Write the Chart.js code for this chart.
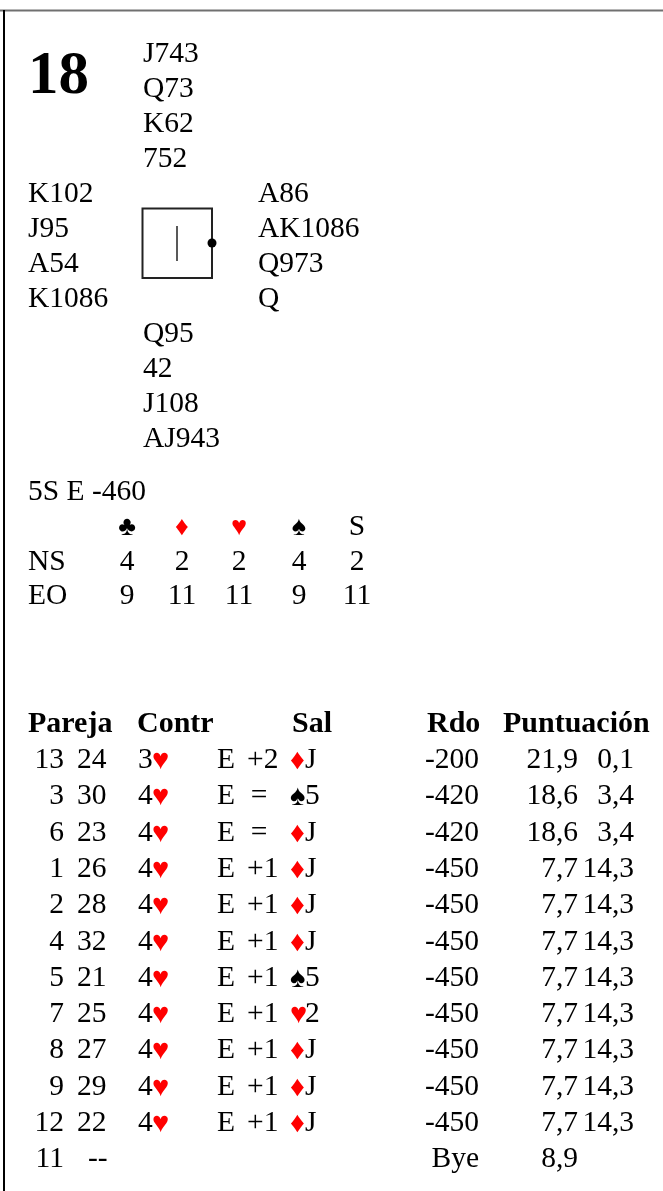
<!DOCTYPE html>
<html>
<head>
    <meta charset="UTF-8">
    <title>Mano 18</title>
    <style>
        html, body {
            margin: 0;
            padding: 0;
            background: #ffffff;
        }
        #hoja {
            display: block;
        }
    </style>
    <script src="https://cdn.jsdelivr.net/npm/chart.js"></script>
</head>
<body>
    <canvas id="hoja" width="663" height="1191"></canvas>

    <script>
        // datos de la mano
        var numeroMano = '18';
        var norte = ['J743', 'Q73', 'K62', '752'];
        var oeste = ['K102', 'J95', 'A54', 'K1086'];
        var este = ['A86', 'AK1086', 'Q973', 'Q'];
        var sur = ['Q95', '42', 'J108', 'AJ943'];
        var par = '5S E -460';

        // bazas por palo
        var palos = ['♣', '♦', '♥', '♠', 'S'];
        var bazasNS = [4, 2, 2, 4, 2];
        var bazasEO = [9, 11, 11, 9, 11];

        // resultados
        var cabeceras = ['Pareja', 'Contr', 'Sal', 'Rdo', 'Puntuación'];
        var parejaNS = [13, 3, 6, 1, 2, 4, 5, 7, 8, 9, 12, 11];
        var parejaEO = [24, 30, 23, 26, 28, 32, 21, 25, 27, 29, 22, '--'];
        var nivel = [3, 4, 4, 4, 4, 4, 4, 4, 4, 4, 4, null];
        var paloContrato = ['♥', '♥', '♥', '♥', '♥', '♥', '♥', '♥', '♥', '♥', '♥', null];
        var declarante = ['E', 'E', 'E', 'E', 'E', 'E', 'E', 'E', 'E', 'E', 'E', null];
        var bazasExtra = ['+2', '=', '=', '+1', '+1', '+1', '+1', '+1', '+1', '+1', '+1', null];
        var paloSalida = ['♦', '♠', '♦', '♦', '♦', '♦', '♠', '♥', '♦', '♦', '♦', null];
        var cartaSalida = ['J', '5', 'J', 'J', 'J', 'J', '5', '2', 'J', 'J', 'J', null];
        var resultado = [-200, -420, -420, -450, -450, -450, -450, -450, -450, -450, -450, 'Bye'];
        var puntosNS = [21.9, 18.6, 18.6, 7.7, 7.7, 7.7, 7.7, 7.7, 7.7, 7.7, 7.7, 8.9];
        var puntosEO = [0.1, 3.4, 3.4, 14.3, 14.3, 14.3, 14.3, 14.3, 14.3, 14.3, 14.3, null];

        var fuente = '"Liberation Serif", "Times New Roman", serif';
        var rojo = '#ff0000';

        function esRojo(p) {
            return p === '♥' || p === '♦';
        }

        function coma(v) {
            return v.toFixed(1).replace('.', ',');
        }

        // plugin que dibuja la hoja sobre las escalas del grafico
        var hojaPlugin = {
            id: 'hoja',
            afterDraw: function (chart) {
                var ctx = chart.ctx;
                var sx = chart.scales.x;
                var sy = chart.scales.y;
                function X(v) { return sx.getPixelForValue(v); }
                function Y(v) { return sy.getPixelForValue(v); }

                function texto(t, x, y, opts) {
                    opts = opts || {};
                    ctx.font = (opts.bold ? 'bold ' : '') + (opts.size || 29.5) + 'px ' + fuente;
                    ctx.fillStyle = opts.color || '#000000';
                    ctx.textAlign = opts.align || 'left';
                    ctx.textBaseline = 'alphabetic';
                    ctx.fillText(t, X(x), Y(y));
                }

                function palo(p, x, y, size, align) {
                    texto(p, x, y, { size: size, color: esRojo(p) ? rojo : '#000000', align: align || 'left' });
                }

                ctx.save();

                // bordes
                ctx.strokeStyle = '#707070';
                ctx.lineWidth = 2;
                ctx.beginPath();
                ctx.moveTo(X(0), Y(10.5));
                ctx.lineTo(X(663), Y(10.5));
                ctx.stroke();
                ctx.strokeStyle = '#000000';
                ctx.beginPath();
                ctx.moveTo(X(4), Y(10));
                ctx.lineTo(X(4), Y(1191));
                ctx.stroke();

                // numero de mano
                texto(numeroMano, 28, 93, { bold: true, size: 61 });

                // manos
                var paso = 35;
                norte.forEach(function (t, i) { texto(t, 143, 62 + i * paso); });
                oeste.forEach(function (t, i) { texto(t, 28, 202 + i * paso); });
                este.forEach(function (t, i) { texto(t, 258, 202 + i * paso); });
                sur.forEach(function (t, i) { texto(t, 143, 342 + i * paso); });

                // rosa
                ctx.strokeStyle = '#222222';
                ctx.lineWidth = 2;
                ctx.strokeRect(X(142.5), Y(208.5), X(212) - X(142.5), Y(278) - Y(208.5));
                ctx.lineWidth = 1.5;
                ctx.beginPath();
                ctx.moveTo(X(177), Y(226));
                ctx.lineTo(X(177), Y(261));
                ctx.stroke();
                ctx.fillStyle = '#000000';
                ctx.beginPath();
                ctx.arc(X(212), Y(243), 4.5, 0, Math.PI * 2);
                ctx.fill();

                // par
                texto(par, 28, 500);

                // tabla de bazas
                var colBazas = [127, 182, 239, 299, 357];
                palos.forEach(function (p, i) {
                    if (p === 'S') {
                        texto(p, colBazas[i], 535, { align: 'center' });
                    } else {
                        palo(p, colBazas[i], 535, 27, 'center');
                    }
                });
                texto('NS', 28, 570);
                texto('EO', 28, 604);
                bazasNS.forEach(function (v, i) { texto(String(v), colBazas[i], 570, { align: 'center' }); });
                bazasEO.forEach(function (v, i) { texto(String(v), colBazas[i], 604, { align: 'center' }); });

                // cabecera de resultados
                var colCab = [28, 137, 292, 427, 503];
                cabeceras.forEach(function (c, i) { texto(c, colCab[i], 732, { bold: true, size: 30 }); });

                // filas de resultados
                var fila0 = 768;
                var pasoFila = 36.3;
                parejaNS.forEach(function (n, i) {
                    var y = fila0 + i * pasoFila;
                    texto(String(n), 64, y, { align: 'right' });
                    if (parejaEO[i] === '--') {
                        texto('--', 88, y);
                    } else {
                        texto(String(parejaEO[i]), 77, y);
                    }
                    if (nivel[i] !== null) {
                        texto(String(nivel[i]), 138, y);
                        palo(paloContrato[i], 152, y + 1, 29);
                        texto(declarante[i], 217, y);
                        if (bazasExtra[i] === '=') {
                            texto('=', 259, y, { align: 'center' });
                        } else {
                            texto(bazasExtra[i], 247, y);
                        }
                        palo(paloSalida[i], 290, y + 1, 29);
                        texto(cartaSalida[i], 305, y);
                    }
                    texto(String(resultado[i]), 479, y, { align: 'right' });
                    texto(coma(puntosNS[i]), 578, y, { align: 'right' });
                    if (puntosEO[i] !== null) {
                        texto(coma(puntosEO[i]), 634, y, { align: 'right' });
                    }
                });

                ctx.restore();
            }
        };

        var ctx = document.getElementById('hoja').getContext('2d');
        new Chart(ctx, {
            type: 'scatter',
            data: { datasets: [{ data: [], pointRadius: 0 }] },
            options: {
                responsive: false,
                animation: false,
                layout: { padding: 0 },
                plugins: {
                    legend: { display: false },
                    tooltip: { enabled: false },
                    title: { display: false }
                },
                scales: {
                    x: { type: 'linear', min: 0, max: 663, display: false },
                    y: { type: 'linear', min: 0, max: 1191, reverse: true, display: false }
                }
            },
            plugins: [hojaPlugin]
        });
    </script>
</body>
</html>
